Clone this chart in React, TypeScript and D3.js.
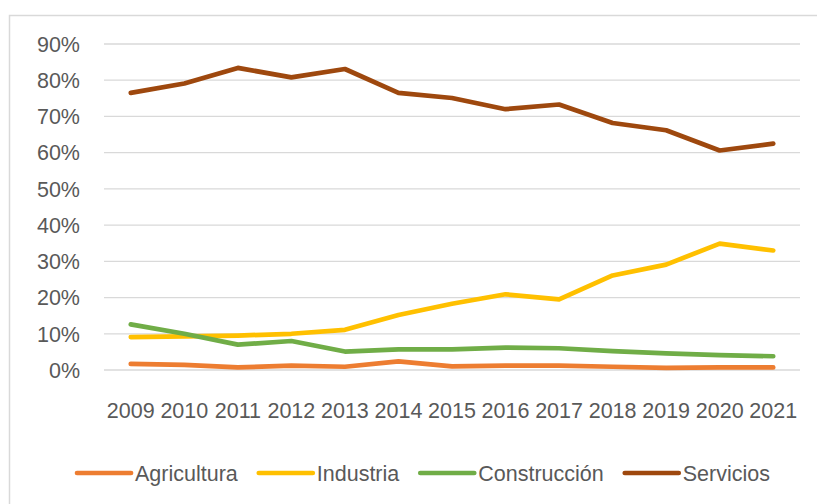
import React, { useEffect, useRef } from 'react';
import * as d3 from 'd3';

const years = ['2009', '2010', '2011', '2012', '2013', '2014', '2015', '2016', '2017', '2018', '2019', '2020', '2021'];
const agricultura = [1.7, 1.4, 0.7, 1.2, 0.9, 2.4, 1.0, 1.2, 1.2, 0.9, 0.6, 0.7, 0.7];
const industria = [9.1, 9.3, 9.5, 10.0, 11.1, 15.2, 18.3, 20.9, 19.5, 26.1, 29.1, 34.9, 33.0];
const construccion = [12.6, 10.0, 7.0, 8.0, 5.1, 5.7, 5.7, 6.2, 6.0, 5.2, 4.6, 4.1, 3.8];
const servicios = [76.5, 79.1, 83.4, 80.8, 83.1, 76.5, 75.1, 72.0, 73.3, 68.2, 66.2, 60.6, 62.5];
const yTicks = [0, 10, 20, 30, 40, 50, 60, 70, 80, 90];

const series = [
  { name: 'Agricultura', values: agricultura, color: '#ED7D31' },
  { name: 'Industria', values: industria, color: '#FFC000' },
  { name: 'Construcción', values: construccion, color: '#70AD47' },
  { name: 'Servicios', values: servicios, color: '#9E480E' },
];

const W = 817;
const H = 504;
const FONT = '"Liberation Sans", Arial, sans-serif';

const App = () => {
  const svgRef = useRef<SVGSVGElement>(null);

  useEffect(() => {
    const svg = d3.select(svgRef.current);
    svg.selectAll('*').remove();

    const margin = { left: 104, right: 17, top: 44, bottom: 134 };
    const innerW = W - margin.left - margin.right;
    const innerH = H - margin.top - margin.bottom;

    // chart border (extends past the window on right/bottom)
    svg.append('rect')
      .attr('x', 9.5).attr('y', 15.5)
      .attr('width', W + 20).attr('height', H + 20)
      .attr('fill', 'white')
      .attr('stroke', '#d9d9d9').attr('stroke-width', 1.5);

    const g = svg.append('g').attr('transform', `translate(${margin.left},${margin.top})`);

    const x = d3.scaleBand().domain(years).range([0, innerW]);
    const y = d3.scaleLinear().domain([0, 90]).range([innerH, 0]);

    // grid lines
    g.selectAll('.grid')
      .data(yTicks)
      .enter().append('line')
      .attr('x1', 0).attr('x2', innerW)
      .attr('y1', d => y(d)).attr('y2', d => y(d))
      .attr('stroke', '#d9d9d9').attr('stroke-width', 1.3);

    // y labels
    g.selectAll('.ylab')
      .data(yTicks)
      .enter().append('text')
      .attr('x', -24).attr('y', d => y(d))
      .attr('dy', '0.36em')
      .attr('text-anchor', 'end')
      .style('font-family', FONT).style('font-size', '21.5px').style('fill', '#595959')
      .text(d => `${d}%`);

    // x labels
    g.selectAll('.xlab')
      .data(years)
      .enter().append('text')
      .attr('x', d => x(d)! + x.bandwidth() / 2)
      .attr('y', innerH + 48)
      .attr('text-anchor', 'middle')
      .style('font-family', FONT).style('font-size', '21.5px').style('fill', '#595959')
      .text(d => d);

    const line = d3.line<number>()
      .x((_, i) => x(years[i])! + x.bandwidth() / 2)
      .y(d => y(d));

    series.forEach(s => {
      g.append('path')
        .datum(s.values)
        .attr('d', line)
        .attr('fill', 'none')
        .attr('stroke', s.color)
        .attr('stroke-width', 4.7)
        .attr('stroke-linecap', 'round')
        .attr('stroke-linejoin', 'round');
    });

    // legend
    const legend = svg.append('g');
    const lineLen = 54;
    const gap = 4;
    const itemGap = 21;
    const ly = 473;
    let cx = 0;
    const items: { g: any; w: number }[] = [];
    series.forEach(s => {
      const item = legend.append('g');
      item.append('line')
        .attr('x1', 0).attr('x2', lineLen)
        .attr('y1', ly).attr('y2', ly)
        .attr('stroke', s.color).attr('stroke-width', 4.7)
        .attr('stroke-linecap', 'round');
      const t = item.append('text')
        .attr('x', lineLen + gap).attr('y', ly)
        .attr('dy', '0.36em')
        .style('font-family', FONT).style('font-size', '21.5px').style('fill', '#595959')
        .text(s.name);
      const tw = (t.node() as SVGTextElement).getComputedTextLength();
      items.push({ g: item, w: lineLen + gap + tw });
    });
    const total = d3.sum(items, d => d.w) + itemGap * (items.length - 1);
    cx = 423.5 - total / 2;
    items.forEach(it => {
      it.g.attr('transform', `translate(${cx},0)`);
      cx += it.w + itemGap;
    });
  }, []);

  return (
    <svg ref={svgRef} width={W} height={H} style={{ position: 'absolute', left: 0, top: 0, display: 'block' }} />
  );
};

export default App;
